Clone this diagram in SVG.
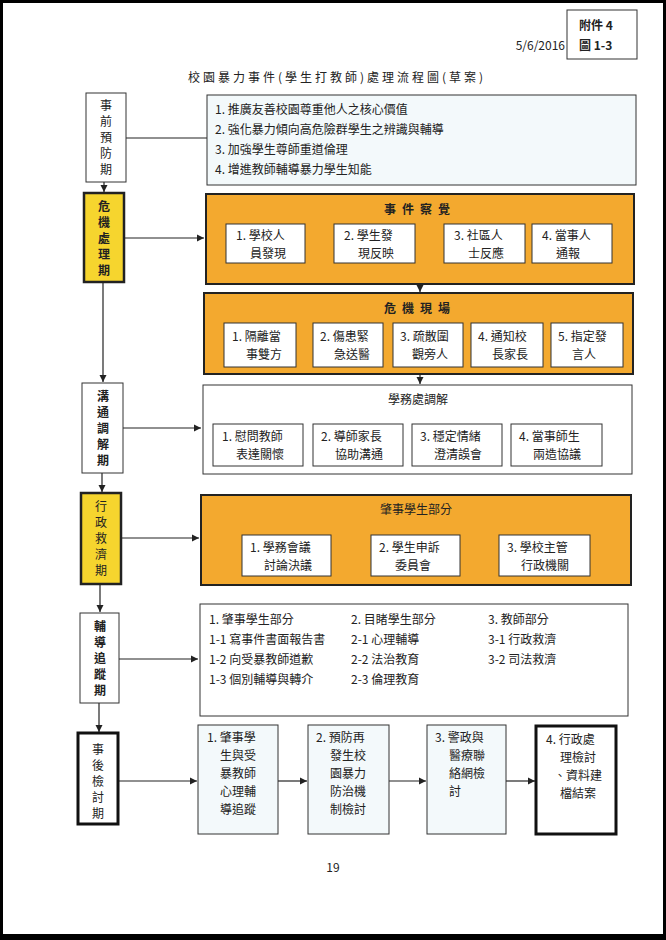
<svg xmlns="http://www.w3.org/2000/svg" width="666" height="940" viewBox="0 0 666 940">
<defs>
<marker id="ah" markerWidth="8" markerHeight="8" refX="7" refY="4" orient="auto" markerUnits="userSpaceOnUse"><path d="M0,0.5 L7,4 L0,7.5 Z" fill="#222"/></marker>
<style>
text{font-family:"Noto Sans CJK TC","Liberation Serif",serif;fill:#222;font-size:12px}
.c{text-anchor:middle}
.b{font-weight:bold}
.w{fill:#fff;stroke:#333;stroke-width:1}
.lb{fill:#f3f9fb;stroke:#333;stroke-width:1}
.y{fill:#f6d52e;stroke:#222;stroke-width:2.5}
.o{fill:#f3a92f;stroke:#222;stroke-width:2}
.k{fill:#fff;stroke:#111;stroke-width:3}
.ln{stroke:#222;stroke-width:1.2;fill:none}
</style>
</defs>
<rect x="0" y="0" width="666" height="940" fill="#000"/>
<rect x="3" y="3" width="660" height="931" fill="#fff"/>
<g id="header">
<rect x="567" y="10" width="70" height="49" fill="#fff" stroke="#333"/>
<text x="579" y="30" class="b" font-size="13">附件 4</text>
<text x="579" y="50" class="b" font-size="13">圖 1-3</text>
<text x="565" y="50" font-size="10" text-anchor="end">5/6/2016</text>
<text x="337" y="82" class="c" font-size="14" letter-spacing="3">校園暴力事件(學生打教師)處理流程圖(草案)</text>
<text x="333" y="872" class="c" font-size="11">19</text>
</g>
<g id="connectors">
<line class="ln" x1="104" y1="182" x2="104" y2="192" marker-end="url(#ah)"/>
<line class="ln" x1="103" y1="282" x2="103" y2="382" marker-end="url(#ah)"/>
<line class="ln" x1="102" y1="473" x2="102" y2="492" marker-end="url(#ah)"/>
<line class="ln" x1="100" y1="584" x2="100" y2="612" marker-end="url(#ah)"/>
<line class="ln" x1="99" y1="703" x2="99" y2="732" marker-end="url(#ah)"/>
<line class="ln" x1="126" y1="138" x2="207" y2="138"/>
<line class="ln" x1="124" y1="238" x2="204" y2="238" marker-end="url(#ah)"/>
<line class="ln" x1="420" y1="284" x2="420" y2="292" marker-end="url(#ah)"/>
<line class="ln" x1="420" y1="374" x2="420" y2="384" marker-end="url(#ah)"/>
<line class="ln" x1="123" y1="428" x2="201" y2="428" marker-end="url(#ah)"/>
<line class="ln" x1="121" y1="538" x2="199" y2="538" marker-end="url(#ah)"/>
<line class="ln" x1="119" y1="659" x2="198" y2="659" marker-end="url(#ah)"/>
<line class="ln" x1="118" y1="781" x2="197" y2="781" marker-end="url(#ah)"/>
<line class="ln" x1="278" y1="781" x2="307" y2="781" marker-end="url(#ah)"/>
<line class="ln" x1="389" y1="781" x2="426" y2="781" marker-end="url(#ah)"/>
<line class="ln" x1="506" y1="781" x2="535" y2="781" marker-end="url(#ah)"/>
</g>
<g id="p1"><rect class="w" x="86" y="93" width="40" height="89"/>
<text class="c" font-size="13"><tspan x="106" y="110">事</tspan><tspan x="106" y="126">前</tspan><tspan x="106" y="142">預</tspan><tspan x="106" y="158">防</tspan><tspan x="106" y="174">期</tspan></text></g>
<g id="p2"><rect class="y" x="84" y="193" width="40" height="89"/>
<text class="c b" font-size="14"><tspan x="104" y="211">危</tspan><tspan x="104" y="227">機</tspan><tspan x="104" y="243">處</tspan><tspan x="104" y="259">理</tspan><tspan x="104" y="275">期</tspan></text></g>
<g id="p3"><rect class="w" x="82" y="383" width="41" height="90"/>
<text class="c b" font-size="14"><tspan x="103" y="401">溝</tspan><tspan x="103" y="417">通</tspan><tspan x="103" y="433">調</tspan><tspan x="103" y="449">解</tspan><tspan x="103" y="465">期</tspan></text></g>
<g id="p4"><rect class="y" x="81" y="493" width="40" height="91"/>
<text class="c" font-size="14"><tspan x="101" y="511">行</tspan><tspan x="101" y="527">政</tspan><tspan x="101" y="543">救</tspan><tspan x="101" y="559">濟</tspan><tspan x="101" y="575">期</tspan></text></g>
<g id="p5"><rect class="w" x="80" y="613" width="39" height="90"/>
<text class="c b" font-size="14"><tspan x="100" y="631">輔</tspan><tspan x="100" y="647">導</tspan><tspan x="100" y="663">追</tspan><tspan x="100" y="679">蹤</tspan><tspan x="100" y="695">期</tspan></text></g>
<g id="p6"><rect class="k" x="78" y="733" width="40" height="91"/>
<text class="c" font-size="12"><tspan x="98" y="754">事</tspan><tspan x="98" y="770">後</tspan><tspan x="98" y="786">檢</tspan><tspan x="98" y="802">討</tspan><tspan x="98" y="818">期</tspan></text></g>
<g id="b1"><rect class="lb" x="207" y="95" width="429" height="90"/>
<text x="215" y="114">1. 推廣友善校園尊重他人之核心價值</text>
<text x="215" y="134">2. 強化暴力傾向高危險群學生之辨識與輔導</text>
<text x="215" y="154">3. 加強學生尊師重道倫理</text>
<text x="215" y="174">4. 增進教師輔導暴力學生知能</text></g>
<g id="b2"><rect class="o" x="206" y="194" width="428" height="90"/>
<text x="420" y="214" class="c b" letter-spacing="6">事件察覺</text>
<rect class="w" x="226" y="224" width="79" height="39"/><text x="236" y="240">1. 學校人</text><text x="250" y="258">員發現</text>
<rect class="w" x="334" y="224" width="81" height="39"/><text x="344" y="240">2. 學生發</text><text x="358" y="258">現反映</text>
<rect class="w" x="444" y="224" width="81" height="39"/><text x="454" y="240">3. 社區人</text><text x="468" y="258">士反應</text>
<rect class="w" x="532" y="224" width="80" height="39"/><text x="542" y="240">4. 當事人</text><text x="556" y="258">通報</text></g>
<g id="b3"><rect class="o" x="204" y="293" width="429" height="81"/>
<text x="420" y="313" class="c b" letter-spacing="6">危機現場</text>
<rect class="w" x="224" y="323" width="72" height="44"/><text x="232" y="341">1. 隔離當</text><text x="246" y="359">事雙方</text>
<rect class="w" x="313" y="323" width="70" height="44"/><text x="320" y="341">2. 傷患緊</text><text x="334" y="359">急送醫</text>
<rect class="w" x="393" y="323" width="70" height="44"/><text x="400" y="341">3. 疏散圍</text><text x="412" y="359">觀旁人</text>
<rect class="w" x="471" y="323" width="72" height="44"/><text x="478" y="341">4. 通知校</text><text x="492" y="359">長家長</text>
<rect class="w" x="551" y="323" width="72" height="44"/><text x="558" y="341">5. 指定發</text><text x="572" y="359">言人</text></g>
<g id="b4"><rect class="w" x="203" y="385" width="429" height="89"/>
<text x="418" y="404" class="c">學務處調解</text>
<rect class="w" x="213" y="424" width="90" height="42"/><text x="222" y="441">1. 慰問教師</text><text x="236" y="459">表達關懷</text>
<rect class="w" x="313" y="424" width="90" height="42"/><text x="321" y="441">2. 導師家長</text><text x="335" y="459">協助溝通</text>
<rect class="w" x="412" y="424" width="90" height="42"/><text x="420" y="441">3. 穩定情緒</text><text x="434" y="459">澄清誤會</text>
<rect class="w" x="511" y="424" width="91" height="42"/><text x="519" y="441">4. 當事師生</text><text x="533" y="459">兩造協議</text></g>
<g id="b5"><rect class="o" x="201" y="495" width="430" height="90"/>
<text x="416" y="514" class="c">肇事學生部分</text>
<rect class="w" x="242" y="535" width="89" height="41"/><text x="250" y="552">1. 學務會議</text><text x="264" y="570">討論決議</text>
<rect class="w" x="371" y="535" width="89" height="41"/><text x="379" y="552">2. 學生申訴</text><text x="395" y="570">委員會</text>
<rect class="w" x="499" y="535" width="91" height="41"/><text x="507" y="552">3. 學校主管</text><text x="521" y="570">行政機關</text></g>
<g id="b6"><rect class="w" x="200" y="604" width="428" height="112"/>
<text x="209" y="624">1. 肇事學生部分</text><text x="209" y="644">1-1 寫事件書面報告書</text><text x="209" y="664">1-2 向受暴教師道歉</text><text x="209" y="684">1-3 個別輔導與轉介</text>
<text x="351" y="624">2. 目睹學生部分</text><text x="351" y="644">2-1 心理輔導</text><text x="351" y="664">2-2 法治教育</text><text x="351" y="684">2-3 倫理教育</text>
<text x="488" y="624">3. 教師部分</text><text x="488" y="644">3-1 行政救濟</text><text x="488" y="664">3-2 司法救濟</text></g>
<g id="r1"><rect class="lb" x="198" y="725" width="80" height="109"/>
<text x="207" y="742">1. 肇事學</text><text x="220" y="760">生與受</text><text x="220" y="778">暴教師</text><text x="220" y="796">心理輔</text><text x="220" y="814">導追蹤</text></g>
<g id="r2"><rect class="lb" x="308" y="725" width="81" height="109"/>
<text x="316" y="742">2. 預防再</text><text x="330" y="760">發生校</text><text x="330" y="778">園暴力</text><text x="330" y="796">防治機</text><text x="330" y="814">制檢討</text></g>
<g id="r3"><rect class="lb" x="427" y="725" width="79" height="109"/>
<text x="435" y="742">3. 警政與</text><text x="449" y="760">醫療聯</text><text x="449" y="778">絡網檢</text><text x="449" y="796">討</text></g>
<g id="r4"><rect class="k" x="536" y="726" width="80" height="108"/>
<text x="546" y="744">4. 行政處</text><text x="560" y="762">理檢討</text><text x="554" y="780">、資料建</text><text x="560" y="798">檔結案</text></g>
</svg>
